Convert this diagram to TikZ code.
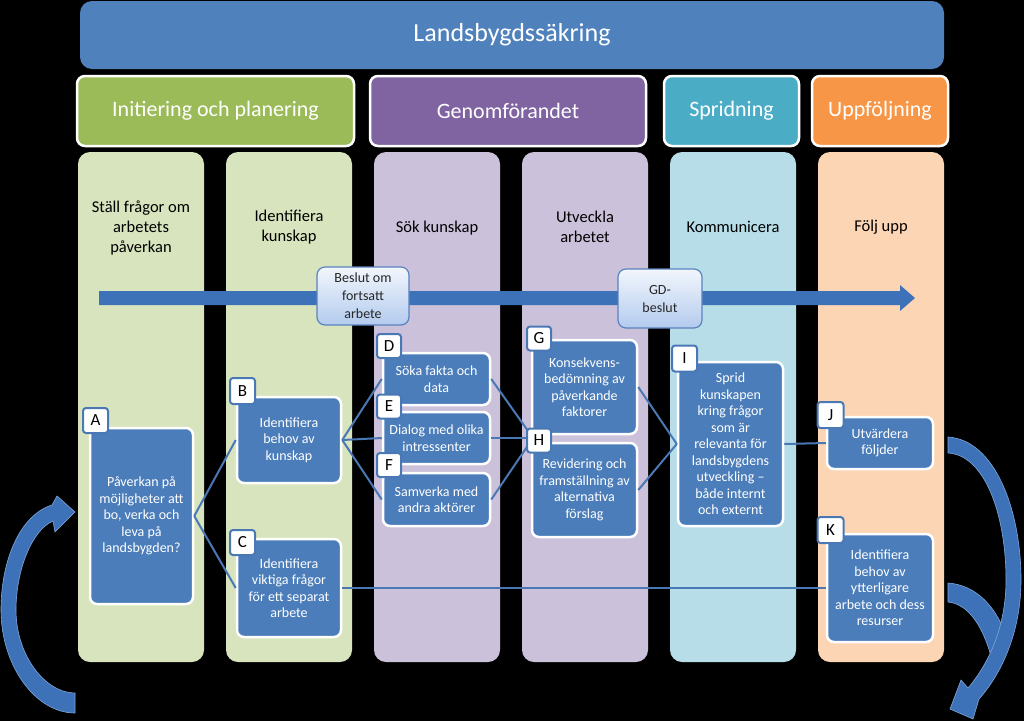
\documentclass[tikz,border=0pt]{standalone}
\usepackage{fontspec}
\setmainfont{Carlito}
\newcommand\myfs[2]{\fontsize{#1}{#2}\selectfont}
\definecolor{bannerblue}{HTML}{4F81BD}
\definecolor{phgreen}{HTML}{9BBB59}
\definecolor{phpurple}{HTML}{8064A2}
\definecolor{phcyan}{HTML}{4BACC6}
\definecolor{phorange}{HTML}{F79646}
\definecolor{colgreen}{HTML}{D7E4BD}
\definecolor{colpurple}{HTML}{CCC1DA}
\definecolor{colcyan}{HTML}{B7DEE8}
\definecolor{colorange}{HTML}{FCD5B5}
\definecolor{taskblue}{HTML}{4A7DBA}
\definecolor{tagblue}{HTML}{4A78B5}
\definecolor{linkblue}{HTML}{4A78B5}
\definecolor{arrowblue}{HTML}{3E72B8}
\definecolor{arrowedge}{HTML}{7EA6DA}
\definecolor{dectop}{HTML}{F2F6FC}
\definecolor{decbot}{HTML}{B3CBEE}
\definecolor{decborder}{HTML}{5A82BE}
\begin{document}
\begin{tikzpicture}[x=1pt,y=-1pt,
  banner/.style={fill=bannerblue, rounded corners=12pt, text=white, font=\myfs{26}{31}, inner sep=0pt},
  phase/.style={draw=white, line width=2.5pt, rounded corners=8pt, text=white, font=\myfs{22}{26}, minimum height=70pt, inner sep=0pt},
  lane/.style={rounded corners=12pt, minimum width=126pt, minimum height=510pt, inner sep=0pt},
  lanehead/.style={align=center, font=\myfs{16.5}{20}, text=black},
  task/.style={fill=taskblue, draw=white, line width=2.5pt, rounded corners=7pt, text=white, align=center, font=\myfs{14}{16.5}, inner sep=1pt},
  tag/.style={fill=white, draw=tagblue, line width=2pt, rounded corners=3pt, minimum width=24pt, minimum height=24pt, font=\myfs{17}{20}, inner sep=0pt, text=black},
  decision/.style={draw=decborder, line width=1.2pt, rounded corners=8pt, top color=dectop, bottom color=decbot, align=center, font=\myfs{14}{18}, text=black!85, inner sep=0pt},
  link/.style={draw=linkblue, line width=2pt},
  bigarrow/.style={fill=arrowblue, draw=arrowedge, line width=0.6pt}
]
\useasboundingbox (0,0) rectangle (1024,721);
\fill[black] (0,0) rectangle (1024,721);

% banner
\node[banner, minimum width=864pt, minimum height=68pt] (banner) at (512,35) {Landsbygdssäkring};

% phases
\node[phase, fill=phgreen, minimum width=277pt] (p1) at (215.5,111) {Initiering och planering};
\node[phase, fill=phpurple, minimum width=276pt] (p2) at (508,111) {Genomförandet};
\node[phase, fill=phcyan, minimum width=135pt] (p3) at (731.5,111) {Spridning};
\node[phase, fill=phorange, minimum width=136pt] (p4) at (880,111) {Uppföljning};

% lanes
\node[lane, fill=colgreen] (l1) at (141,407) {};
\node[lane, fill=colgreen] (l2) at (289,407) {};
\node[lane, fill=colpurple] (l3) at (437,407) {};
\node[lane, fill=colpurple] (l4) at (585,407) {};
\node[lane, fill=colcyan] (l5) at (733,407) {};
\node[lane, fill=colorange] (l6) at (881,407) {};

\node[lanehead] (h1) at (141,228) {Ställ frågor om\\arbetets\\påverkan};
\node[lanehead] (h2) at (289,227) {Identifiera\\kunskap};
\node[lanehead] (h3) at (437,228) {Sök kunskap};
\node[lanehead] (h4) at (585,227) {Utveckla\\arbetet};
\node[lanehead] (h5) at (733,227) {Kommunicera};
\node[lanehead] (h6) at (881,227) {Följ upp};

% main timeline arrow
\fill[arrowblue] (99,291) -- (900,291) -- (900,285) -- (915,298) -- (900,311) -- (900,305) -- (99,305) -- cycle;

% decisions
\node[decision, minimum width=92pt, minimum height=58pt] (d1) at (363,296) {Beslut om\\fortsatt\\arbete};
\node[decision, minimum width=84pt, minimum height=59pt] (d2) at (660,298.5) {GD-\\beslut};

% tasks
\node[task, minimum width=103pt, minimum height=176pt] (A) at (141.5,516) {Påverkan på\\möjligheter att\\bo, verka och\\leva på\\landsbygden?};
\node[task, minimum width=104pt, minimum height=86pt] (B) at (289,440) {Identifiera\\behov av\\kunskap};
\node[task, minimum width=104pt, minimum height=98pt] (C) at (289,588) {Identifiera\\viktiga frågor\\för ett separat\\arbete};
\node[task, minimum width=107pt, minimum height=52pt] (D) at (436.5,379) {Söka fakta och\\data};
\node[task, minimum width=107pt, minimum height=52pt] (E) at (436.5,438) {Dialog med olika\\intressenter};
\node[task, minimum width=107pt, minimum height=53pt] (F) at (436.5,499.5) {Samverka med\\andra aktörer};
\node[task, minimum width=105pt, minimum height=94pt] (G) at (584.5,387) {Konsekvens-\\bedömning av\\påverkande\\faktorer};
\node[task, minimum width=105pt, minimum height=94pt] (H) at (584.5,490) {Revidering och\\framställning av\\alternativa\\förslag};
\node[task, minimum width=105pt, minimum height=164pt] (I) at (730.5,444) {Sprid\\kunskapen\\kring frågor\\som är\\relevanta för\\landsbygdens\\utveckling –\\både internt\\och externt};
\node[task, minimum width=106pt, minimum height=52pt] (J) at (880,443) {Utvärdera\\följder};
\node[task, minimum width=106pt, minimum height=108pt] (K) at (880,588) {Identifiera\\behov av\\ytterligare\\arbete och dess\\resurser};

% connectors
\coordinate (gh) at (533,438);
\draw[link] (A.east) -- (B.west);
\draw[link] (A.east) -- (C.west);
\draw[link] (B.east) -- (D.west);
\draw[link] (B.east) -- (E.west);
\draw[link] (B.east) -- (F.west);
\draw[link] (D.east) -- (gh);
\draw[link] (E.east) -- (gh);
\draw[link] (F.east) -- (gh);
\draw[link] (G.east) -- (I.west);
\draw[link] (H.east) -- (I.west);
\draw[link] (I.east) -- (J.west);
\draw[link] (C.east) -- (K.west);

% tags
\node[tag, minimum width=25pt, minimum height=25pt] (tA) at (95.5,420.5) {A};
\node[tag, minimum width=25pt, minimum height=26pt] (tB) at (242.5,391) {B};
\node[tag, minimum width=25pt, minimum height=25pt] (tC) at (242.5,542.5) {C};
\node[tag] (tD) at (389,346) {D};
\node[tag] (tE) at (389,406.5) {E};
\node[tag] (tF) at (389,465) {F};
\node[tag] (tG) at (539,338.5) {G};
\node[tag] (tH) at (539,440.5) {H};
\node[tag, minimum width=25pt, minimum height=26pt] (tI) at (684.5,358.5) {I};
\node[tag, minimum width=26pt, minimum height=26pt] (tJ) at (830.5,415) {J};
\node[tag, minimum width=26pt, minimum height=26pt] (tK) at (830.5,530) {K};

% left curved arrow
\path[bigarrow] (75,713) .. controls (35,713) and (1,665) .. (1,610)
  .. controls (1,560) and (20,515) .. (52,505)
  -- (57,496) -- (75,512) -- (55,532) -- (53,521)
  .. controls (32,530) and (16,570) .. (16,610)
  .. controls (16,655) and (45,693) .. (75,693) -- cycle;

% right curved arrows
\path[bigarrow] (948,583) .. controls (975,585) and (997,605) .. (1008,642)
  -- (993,664) .. controls (985,630) and (970,604) .. (948,602) -- cycle;
\path[bigarrow] (948,437) .. controls (995,440) and (1021,510) .. (1021,580)
  .. controls (1021,630) and (1003,672) .. (979,699)
  -- (973,719) -- (950,709) -- (961,680) -- (968,688)
  .. controls (990,662) and (1006,625) .. (1006,580)
  .. controls (1006,515) and (985,455) .. (948,453) -- cycle;
\end{tikzpicture}
\end{document}
